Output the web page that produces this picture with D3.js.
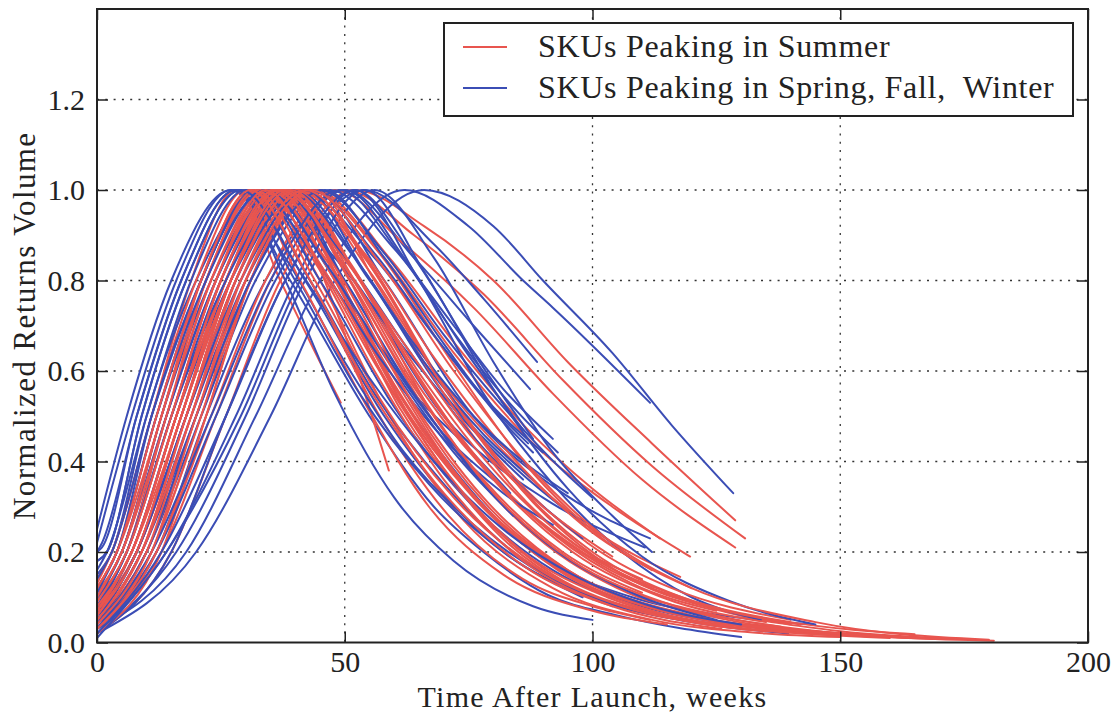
<!DOCTYPE html>
<html>
<head>
<meta charset="utf-8">
<script src="https://cdn.jsdelivr.net/npm/d3@7"></script>
<style>
  html, body { margin: 0; padding: 0; background: #fff; }
  svg text { font-family: "Liberation Serif", "Times New Roman", serif; fill: #222; }
</style>
</head>
<body>
<svg id="chart" width="1112" height="713"></svg>
<script>
// ---------------- data ----------------
const xTicks = [0, 50, 100, 150, 200];
const yTicks = [0.0, 0.2, 0.4, 0.6, 0.8, 1.0, 1.2];
const seriesNames = ["SKUs Peaking in Summer", "SKUs Peaking in Spring, Fall,  Winter"];
const seriesColors = ["#e8554f", "#3b4db5"];

// each curve: [week, normalized returns volume] points
const summerCurves = [
  [[0,0.13],[3,0.2],[11,0.5],[19,0.8],[28,1],[37,0.8],[45,0.62],[49.2,0.53]],
  [[0,0.04],[8,0.2],[18,0.5],[27,0.8],[37,1],[45,0.9],[54.7,0.65]],
  [[0,0.06],[7,0.2],[16,0.5],[25,0.8],[36,1],[44,0.85],[51,0.65],[58.9,0.38]],
  [[0,0.02],[15,0.2],[26,0.5],[37,0.8],[52,1],[66,0.92],[80,0.8],[95,0.62],[112,0.44],[128.8,0.27]],
  [[0,0.03],[13,0.2],[24,0.5],[35,0.8],[50,1],[64,0.9],[78,0.77],[94,0.58],[112,0.39],[130.8,0.23]],
  [[0,0.03],[12,0.2],[23,0.5],[34,0.8],[48,1],[62,0.88],[76,0.74],[92,0.55],[110,0.36],[128.8,0.21]],
  [[0,0.05],[10,0.2],[20,0.5],[30,0.8],[44,1],[58,0.85],[72,0.64],[88,0.44],[104,0.3],[119.7,0.19]],
  [[0,0.07],[8,0.2],[18,0.5],[28,0.8],[41,1],[55,0.82],[68,0.6],[84,0.4],[100,0.25],[117.7,0.145]],
  [[0,0.04],[11,0.2],[21,0.5],[31,0.8],[45,1],[59,0.85],[73,0.65],[87,0.47],[100,0.34],[113.6,0.23]],
  [[0,0.08],[7,0.2],[16,0.5],[26,0.8],[38,1],[51,0.8],[66,0.52],[84,0.28],[102,0.14],[125,0.06],[150,0.02],[181,0.004]],
  [[0,0.1],[6,0.2],[14,0.5],[23,0.8],[35,1],[48,0.8],[62,0.52],[80,0.28],[98,0.14],[120,0.06],[145,0.022],[168.7,0.008]],
  [[0,0.12],[4,0.2],[12,0.5],[21,0.8],[31,1],[43,0.8],[56,0.52],[71,0.28],[86,0.14],[100,0.08],[111.6,0.05]],
  [[0,0.09],[6,0.2],[15,0.5],[24,0.8],[36,1],[49,0.8],[63,0.5],[80,0.25],[98,0.11],[120,0.045],[145,0.018],[160,0.01]],
  [[0,0.05],[9,0.2],[19,0.5],[28,0.8],[40,1],[53,0.8],[68,0.5],[86,0.26],[105,0.12],[125,0.055],[150,0.02],[165,0.01]],
  [[0,0.07],[8,0.2],[17,0.5],[26,0.8],[38,1],[52,0.82],[67,0.55],[84,0.32],[102,0.17],[120,0.09],[140,0.04]],
  [[0,0.11],[5,0.2],[13,0.5],[22,0.8],[33,1],[45,0.8],[58,0.52],[74,0.27],[92,0.12],[112,0.05],[135,0.02],[150,0.012]],
  [[0,0.03],[11,0.2],[21,0.5],[30,0.8],[42,1],[56,0.82],[71,0.55],[88,0.31],[106,0.15],[126,0.07],[150,0.025],[175,0.008]],
  [[0,0.06],[8,0.2],[18,0.5],[27,0.8],[39,1],[52,0.8],[66,0.55],[82,0.34],[98,0.2],[112,0.12]],
  [[0,0.14],[3,0.2],[11,0.5],[20,0.8],[30,1],[41,0.8],[53,0.55],[67,0.3],[82,0.15],[100,0.07],[115,0.04]],
  [[0,0.08],[7,0.2],[16,0.5],[25,0.8],[37,1],[50,0.85],[63,0.62],[77,0.4],[92,0.24],[108,0.13],[125,0.07]],
  [[0,0.04],[10,0.2],[20,0.5],[29,0.8],[41,1],[54,0.85],[68,0.6],[83,0.38],[99,0.22],[116,0.12],[140,0.05]],
  [[0,0.1],[5,0.2],[14,0.5],[23,0.8],[34,1],[46,0.85],[58,0.62],[72,0.38],[88,0.2],[106,0.1],[130,0.04],[158,0.015]],
  [[0,0.06],[8,0.2],[17,0.5],[27,0.8],[39,1],[51,0.8],[64,0.52],[79,0.3],[95,0.16],[115,0.07],[140,0.03],[172,0.008]],
  [[0,0.02],[13,0.2],[22,0.5],[31,0.8],[44,1],[56,0.8],[70,0.55],[85,0.33],[100,0.19],[118,0.1],[140,0.045],[165,0.018]],
  [[0,0.12],[4,0.2],[13,0.5],[21,0.8],[32,1],[44,0.84],[56,0.6],[70,0.36],[86,0.18],[104,0.08]],
  [[0,0.07],[7,0.2],[16,0.5],[26,0.8],[36,1],[48,0.8],[61,0.52],[76,0.3],[92,0.15],[112,0.065],[135,0.025]],
  [[0,0.05],[9,0.2],[19,0.5],[28,0.8],[40,1],[54,0.86],[68,0.63],[83,0.42],[98,0.26],[112,0.16]],
  [[0,0.09],[6,0.2],[15,0.5],[24,0.8],[35,1],[47,0.82],[60,0.57],[74,0.35],[90,0.19],[108,0.09],[125,0.045]],
  [[0,0.03],[12,0.2],[22,0.5],[31,0.8],[43,1],[57,0.86],[71,0.63],[86,0.4],[102,0.23],[120,0.12],[145,0.045],[180,0.006]],
  [[0,0.06],[8,0.2],[17,0.5],[26,0.8],[37,1],[49,0.8],[62,0.53],[78,0.3],[95,0.15],[116,0.065],[140,0.028],[160,0.014]],
  [[0,0.1],[5,0.2],[14,0.5],[22,0.8],[33,1],[46,0.82],[60,0.55],[76,0.32],[93,0.16],[112,0.07],[135,0.03],[155,0.014]],
  [[0,0.07],[7,0.2],[17,0.5],[26,0.8],[38,1],[50,0.83],[64,0.57],[80,0.33],[96,0.18],[114,0.09],[138,0.035]],
  [[0,0.05],[9,0.2],[18,0.5],[28,0.8],[40,1],[52,0.82],[66,0.58],[81,0.37],[96,0.22],[110,0.14]],
  [[0,0.11],[5,0.2],[13,0.5],[22,0.8],[32,1],[44,0.8],[57,0.54],[72,0.32],[88,0.17],[106,0.08],[128,0.035],[150,0.015]],
  [[0,0.08],[7,0.2],[16,0.5],[25,0.8],[36,1],[48,0.83],[62,0.56],[78,0.32],[95,0.16],[115,0.07],[140,0.028],[162,0.012]],
  [[0,0.06],[8,0.2],[17,0.5],[27,0.8],[39,1],[51,0.84],[65,0.58],[80,0.36],[96,0.2],[114,0.1],[135,0.045]],
  [[0,0.04],[10,0.2],[19,0.5],[29,0.8],[42,1],[55,0.84],[69,0.58],[84,0.36],[100,0.2],[118,0.1],[142,0.04]],
  [[0,0.09],[6,0.2],[15,0.5],[24,0.8],[34,1],[45,0.83],[57,0.6],[71,0.37],[86,0.2],[103,0.1],[122,0.045]],
  [[0,0.05],[9,0.2],[18,0.5],[27,0.8],[38,1],[50,0.82],[63,0.58],[78,0.36],[94,0.2],[110,0.11]],
  [[0,0.12],[4,0.2],[12,0.5],[21,0.8],[31,1],[42,0.82],[55,0.56],[70,0.33],[86,0.17],[104,0.08],[126,0.03]],
  [[0,0.03],[11,0.2],[20,0.5],[30,0.8],[43,1],[57,0.84],[72,0.6],[88,0.38],[104,0.22],[120,0.12]],
  [[0,0.07],[7,0.2],[16,0.5],[25,0.8],[37,1],[49,0.86],[62,0.66],[76,0.45],[90,0.3],[104,0.19]]
];

const otherCurves = [
  [[0,0.22],[7,0.5],[16,0.8],[27,1],[39,0.8],[55,0.5],[68,0.3],[78,0.2],[91,0.105],[105,0.06],[130,0.012]],
  [[0,0.18],[2,0.2],[9,0.5],[18,0.8],[29,1],[42,0.8],[58,0.5],[82,0.2],[100,0.1],[120,0.045],[139.5,0.02]],
  [[0,0.12],[4,0.2],[12,0.5],[21,0.8],[33,1],[47,0.8],[64,0.5],[88,0.2],[108,0.1],[126,0.06],[144.5,0.04]],
  [[0,0.08],[6,0.2],[14,0.5],[24,0.8],[36,1],[50,0.8],[64,0.55],[74,0.44],[83.4,0.33]],
  [[0,0.03],[12,0.2],[22,0.5],[34,0.8],[50,1],[64,0.85],[76,0.7],[87.4,0.56]],
  [[0,0.02],[15,0.2],[26,0.5],[38,0.8],[54,1],[68,0.88],[78,0.76],[88.8,0.62]],
  [[0,0.05],[8,0.2],[17,0.5],[27,0.8],[40,1],[55,0.8],[70,0.55],[85,0.38],[98.5,0.26]],
  [[0,0.1],[5,0.2],[13,0.5],[23,0.8],[36,1],[52,0.8],[70,0.5],[90,0.32],[110.6,0.21]],
  [[0,0.03],[18,0.2],[32,0.5],[45,0.8],[62,1],[75,0.92],[86,0.8],[92,0.74],[111.6,0.53]],
  [[0,0.02],[20,0.2],[35,0.5],[48,0.8],[66,1],[80,0.92],[90,0.8],[104,0.64],[116,0.48],[128.4,0.33]],
  [[0,0.04],[9,0.2],[19,0.5],[30,0.8],[44,1],[58,0.8],[76,0.5],[94,0.33],[111.6,0.23]],
  [[0,0.06],[7,0.2],[16,0.5],[27,0.8],[41,1],[56,0.85],[70,0.65],[80,0.52],[90,0.42]],
  [[0,0.03],[10,0.2],[21,0.5],[32,0.8],[47,1],[60,0.87],[72,0.7],[82,0.56],[92,0.45]],
  [[0,0.15],[3,0.2],[10,0.5],[20,0.8],[33,1],[48,0.85],[62,0.65],[75,0.48],[86,0.36]],
  [[0,0.04],[9,0.2],[20,0.5],[31,0.8],[45,1],[58,0.86],[70,0.68],[82,0.52],[94,0.38],[100,0.32]],
  [[0,0.2],[1,0.22],[8,0.5],[17,0.8],[28,1],[38,0.8],[48,0.55],[60,0.32],[72,0.18],[88,0.08],[100,0.05]],
  [[0,0.25],[6,0.5],[15,0.8],[27,1],[38,0.85],[50,0.62],[62,0.42],[76,0.26],[92,0.14],[110,0.07],[125,0.04]],
  [[0,0.02],[16,0.2],[30,0.5],[42,0.8],[56,1],[68,0.85],[80,0.62],[92,0.42],[104,0.28],[112,0.2]],
  [[0,0.02],[14,0.2],[28,0.5],[40,0.8],[52,1],[65,0.8],[78,0.55],[92,0.35],[106,0.2],[120,0.1],[134,0.05]],
  [[0,0.12],[4,0.2],[11,0.5],[21,0.8],[32,1],[45,0.8],[60,0.52],[76,0.3],[92,0.16],[110,0.08],[128,0.04],[140,0.025]],
  [[0,0.07],[6,0.2],[15,0.5],[25,0.8],[38,1],[50,0.8],[64,0.55],[78,0.35],[93,0.2],[110,0.1],[125,0.05]],
  [[0,0.1],[5,0.2],[13,0.5],[22,0.8],[34,1],[47,0.82],[60,0.6],[72,0.42],[84,0.28]],
  [[0,0.16],[2,0.2],[10,0.5],[19,0.8],[30,1],[43,0.8],[56,0.55],[70,0.35],[84,0.2],[100,0.1],[118,0.05]],
  [[0,0.05],[8,0.2],[18,0.5],[28,0.8],[42,1],[54,0.82],[66,0.62],[78,0.46],[88,0.36]],
  [[0,0.09],[5,0.2],[14,0.5],[24,0.8],[37,1],[50,0.85],[62,0.66],[74,0.48],[86,0.34],[98,0.23]],
  [[0,0.03],[12,0.2],[24,0.5],[36,0.8],[50,1],[62,0.85],[74,0.65],[86,0.47]],
  [[0,0.2],[1,0.21],[8,0.5],[17,0.8],[28,1],[40,0.8],[53,0.55],[67,0.35],[82,0.2],[98,0.1]],
  [[0,0.01],[14,0.2],[29,0.5],[41,0.8],[54,1],[66,0.82],[80,0.56],[95,0.34],[110,0.19],[128,0.09],[145,0.04]],
  [[0,0.02],[13,0.2],[26,0.5],[38,0.8],[52,1],[64,0.85],[76,0.64],[88,0.45]],
  [[0,0.14],[3,0.2],[11,0.5],[21,0.8],[32,1],[44,0.85],[57,0.63],[70,0.45],[82,0.33],[92,0.26]],
  [[0,0.04],[10,0.2],[20,0.5],[31,0.8],[46,1],[58,0.85],[70,0.66],[81,0.5],[88,0.42]],
  [[0,0.05],[8,0.2],[18,0.5],[29,0.8],[43,1],[56,0.86],[68,0.68],[78,0.54],[87,0.44]],
  [[0,0.08],[6,0.2],[15,0.5],[26,0.8],[39,1],[52,0.85],[64,0.66],[76,0.5],[86,0.4],[95,0.33]],
  [[0,0.11],[4,0.2],[12,0.5],[22,0.8],[34,1],[46,0.84],[58,0.64],[70,0.46],[80,0.36]],
  [[0,0.18],[2,0.2],[9,0.5],[18,0.8],[29,1],[41,0.82],[54,0.6],[68,0.4],[82,0.25],[96,0.15],[112,0.08],[130,0.04]],
  [[0,0.03],[11,0.2],[23,0.5],[35,0.8],[49,1],[61,0.86],[73,0.67],[84,0.52],[93,0.42]]
];

// ---------------- layout ----------------
const plot = { left: 97, right: 1088, top: 9, bottom: 642.5 };

const svg = d3.select("#chart");
const x = d3.scaleLinear().domain([0, 200]).range([plot.left, plot.right]);
const y = d3.scaleLinear().domain([0, 1.4]).range([plot.bottom, plot.top]);

// grid
const grid = svg.append("g").attr("stroke", "#333").attr("stroke-width", 1.3)
  .attr("stroke-dasharray", "2,6.3");
grid.selectAll("line.gx").data(xTicks.slice(1, -1)).join("line")
  .attr("x1", d => x(d)).attr("x2", d => x(d))
  .attr("y1", plot.top).attr("y2", plot.bottom);
grid.selectAll("line.gy").data(yTicks.slice(1)).join("line")
  .attr("x1", plot.left).attr("x2", plot.right)
  .attr("y1", d => y(d)).attr("y2", d => y(d));

// curves
svg.append("clipPath").attr("id", "clip").append("rect")
  .attr("x", plot.left).attr("y", plot.top)
  .attr("width", plot.right - plot.left).attr("height", plot.bottom - plot.top);

const line = d3.line().x(d => x(d[0])).y(d => y(d[1])).curve(d3.curveMonotoneX);
const all = [];
const n = Math.max(summerCurves.length, otherCurves.length);
for (let i = 0; i < n; i++) {
  if (i < summerCurves.length) all.push({ pts: summerCurves[i], c: seriesColors[0] });
  if (i < otherCurves.length) all.push({ pts: otherCurves[i], c: seriesColors[1] });
}
svg.append("g").attr("clip-path", "url(#clip)")
  .selectAll("path").data(all).join("path")
  .attr("d", d => line(d.pts))
  .attr("fill", "none").attr("stroke", d => d.c)
  .attr("stroke-width", 2).attr("stroke-linejoin", "round").attr("stroke-linecap", "round");

// axes (ticks inward on all four sides)
const tickLen = 11;
const axB = d3.axisBottom(x).tickValues(xTicks).tickSize(-tickLen).tickPadding(8).tickFormat(d3.format("d"));
const axT = d3.axisTop(x).tickValues(xTicks).tickSize(-tickLen).tickFormat("");
const axL = d3.axisLeft(y).tickValues(yTicks).tickSize(-tickLen).tickPadding(12).tickFormat(d3.format(".1f"));
const axR = d3.axisRight(y).tickValues(yTicks).tickSize(-tickLen).tickFormat("");

function styleAxis(g) {
  g.select(".domain").remove();
  g.selectAll(".tick line").attr("stroke", "#222").attr("stroke-width", 1.5);
  g.selectAll("text").attr("font-size", 30).attr("fill", "#222")
    .style("font-family", '"Liberation Serif", serif');
}
svg.append("g").attr("transform", `translate(0,${plot.bottom})`).call(axB).call(styleAxis);
svg.append("g").attr("transform", `translate(0,${plot.top})`).call(axT).call(styleAxis);
svg.append("g").attr("transform", `translate(${plot.left},0)`).call(axL).call(styleAxis);
svg.append("g").attr("transform", `translate(${plot.right},0)`).call(axR).call(styleAxis);

// frame
svg.append("rect").attr("x", plot.left).attr("y", plot.top)
  .attr("width", plot.right - plot.left).attr("height", plot.bottom - plot.top)
  .attr("fill", "none").attr("stroke", "#222").attr("stroke-width", 2);

// axis labels
svg.append("text").attr("x", (plot.left + plot.right) / 2).attr("y", 707)
  .attr("text-anchor", "middle").attr("font-size", 30).style("letter-spacing", "1.3px")
  .text("Time After Launch, weeks");
svg.append("text").attr("transform", `translate(35,${(plot.top + plot.bottom) / 2}) rotate(-90)`)
  .attr("text-anchor", "middle").attr("font-size", 31).style("letter-spacing", "1.4px")
  .text("Normalized Returns Volume");

// legend
const lg = svg.append("g");
lg.append("rect").attr("x", 444).attr("y", 23).attr("width", 629).attr("height", 93)
  .attr("fill", "#fff").attr("stroke", "#222").attr("stroke-width", 2);
seriesNames.forEach((name, i) => {
  const yy = 47 + i * 41;
  lg.append("line").attr("x1", 463).attr("x2", 507).attr("y1", yy).attr("y2", yy)
    .attr("stroke", seriesColors[i]).attr("stroke-width", 2);
  lg.append("text").attr("x", 538).attr("y", yy + 10).attr("font-size", 32)
    .style("letter-spacing", "0.7px").style("white-space", "pre").text(name);
});
</script>
</body>
</html>
